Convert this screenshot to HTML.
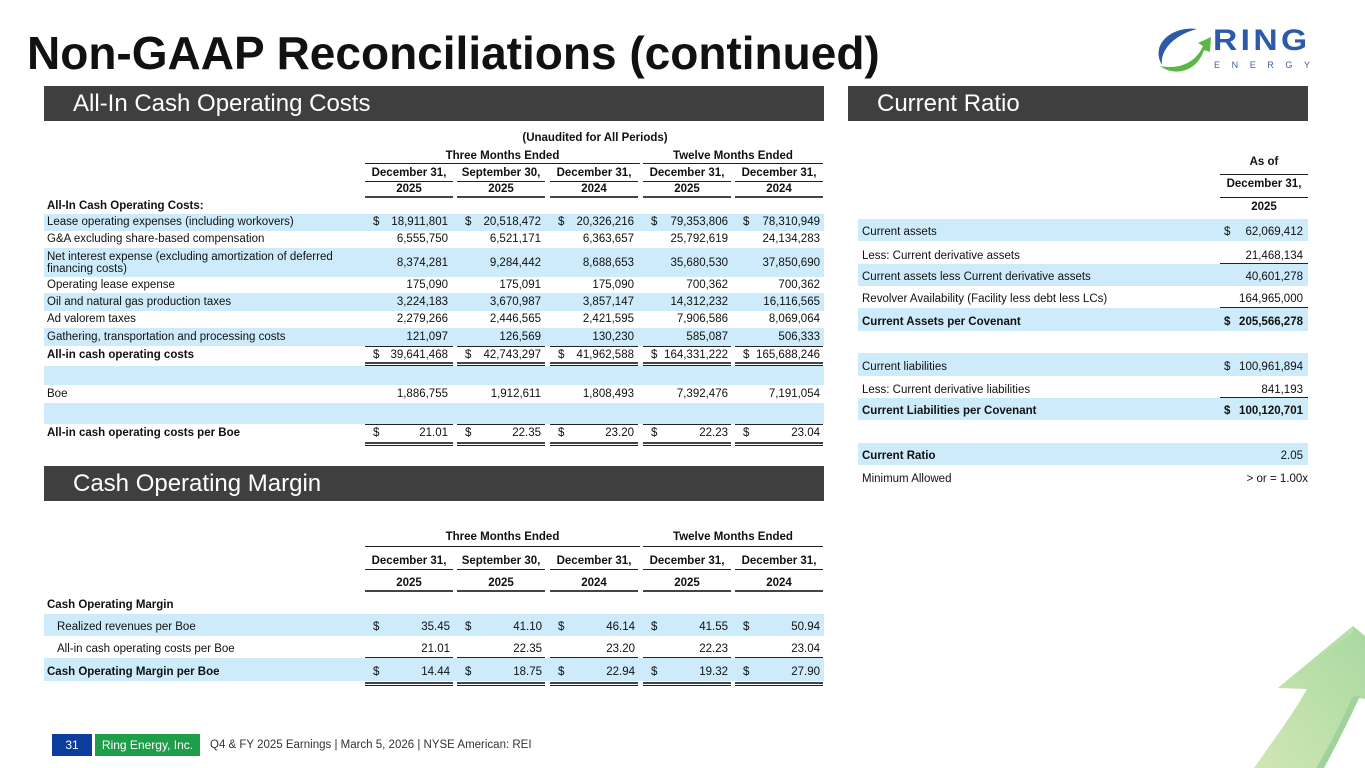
<!DOCTYPE html>
<html>
<head>
<meta charset="utf-8">
<style>
*{margin:0;padding:0;box-sizing:border-box;}
html,body{width:1365px;height:768px;overflow:hidden;background:#fff;}
body{position:relative;font-family:"Liberation Sans",Arial,sans-serif;color:#111;}
.a{position:absolute;}
.t{position:absolute;font-size:11.5px;line-height:14px;white-space:nowrap;color:#111;}
.b{font-weight:bold;}
.r{text-align:right;}
.c{text-align:center;}
.bl{position:absolute;background:#cdebfa;}
.ln{position:absolute;background:#222;height:1px;}
.tk{position:absolute;background:#444;height:2px;}
.bar{position:absolute;background:#3f3f3f;height:35px;color:#fff;font-size:24px;line-height:35px;white-space:nowrap;}
</style>
</head>
<body>

<!-- Title -->
<div class="a" style="left:27px;top:25px;font-size:46px;font-weight:bold;line-height:56px;color:#111;white-space:nowrap;">Non-GAAP Reconciliations (continued)</div>

<!-- Logo -->
<svg class="a" style="left:1150px;top:22px;" width="70" height="56" viewBox="1150 22 70 56">
  <path d="M1197 29 C1172 26,1150 44,1162 65 C1160 50,1174 35,1197 29 Z" fill="#2c5aa8"/>
  <path d="M1160 66 C1176 78,1198 70,1204 50 L1210 52 L1211 37 L1198 43 L1203 46 C1196 62,1180 70,1160 66 Z" fill="#5cb846"/>
</svg>
<div class="a" style="left:1213px;top:24px;font-size:30px;font-weight:bold;line-height:34px;letter-spacing:3px;color:#2c5aa8;white-space:nowrap;transform:scaleX(1.12);transform-origin:left top;">RING</div>
<div class="a" style="left:1214px;top:60px;font-size:9px;line-height:11px;letter-spacing:11.6px;color:#3f5f9a;white-space:nowrap;">ENERGY</div>

<!-- Section bars -->
<div class="bar" style="left:44px;top:86px;width:780px;padding-left:29px;">All-In Cash Operating Costs</div>
<div class="bar" style="left:848px;top:86px;width:460px;padding-left:29px;">Current Ratio</div>
<div class="bar" style="left:44px;top:466px;width:780px;padding-left:29px;">Cash Operating Margin</div>

<!-- ============ LEFT TOP TABLE ============ -->
<div class="bl" style="left:44px;top:214px;width:780px;height:17px;"></div>
<div class="bl" style="left:44px;top:248px;width:780px;height:29px;"></div>
<div class="bl" style="left:44px;top:293px;width:780px;height:18px;"></div>
<div class="bl" style="left:44px;top:328px;width:780px;height:18px;"></div>
<div class="bl" style="left:44px;top:366px;width:780px;height:19px;"></div>
<div class="bl" style="left:44px;top:403px;width:780px;height:21px;"></div>

<div class="t b c" style="left:500px;width:190px;top:131px;">(Unaudited for All Periods)</div>
<div class="t b c" style="left:365px;width:275px;top:149px;">Three Months Ended</div>
<div class="t b c" style="left:643px;width:180px;top:149px;">Twelve Months Ended</div>
<div class="ln" style="left:365px;top:163px;width:275px;"></div>
<div class="ln" style="left:643px;top:163px;width:180px;"></div>

<div class="t b c" style="left:365px;width:88px;top:166px;">December 31,</div>
<div class="t b c" style="left:457px;width:88px;top:166px;">September 30,</div>
<div class="t b c" style="left:550px;width:88px;top:166px;">December 31,</div>
<div class="t b c" style="left:643px;width:88px;top:166px;">December 31,</div>
<div class="t b c" style="left:735px;width:88px;top:166px;">December 31,</div>
<div class="ln" style="left:365px;top:181px;width:88px;"></div>
<div class="ln" style="left:457px;top:181px;width:88px;"></div>
<div class="ln" style="left:550px;top:181px;width:88px;"></div>
<div class="ln" style="left:643px;top:181px;width:88px;"></div>
<div class="ln" style="left:735px;top:181px;width:88px;"></div>

<div class="t b c" style="left:365px;width:88px;top:182px;">2025</div>
<div class="t b c" style="left:457px;width:88px;top:182px;">2025</div>
<div class="t b c" style="left:550px;width:88px;top:182px;">2024</div>
<div class="t b c" style="left:643px;width:88px;top:182px;">2025</div>
<div class="t b c" style="left:735px;width:88px;top:182px;">2024</div>
<div class="tk" style="left:365px;top:196px;width:88px;"></div>
<div class="tk" style="left:457px;top:196px;width:88px;"></div>
<div class="tk" style="left:550px;top:196px;width:88px;"></div>
<div class="tk" style="left:643px;top:196px;width:88px;"></div>
<div class="tk" style="left:735px;top:196px;width:88px;"></div>

<div class="t b" style="left:47px;top:199px;">All-In Cash Operating Costs:</div>

<div class="t" style="left:47px;top:215px;">Lease operating expenses (including workovers)</div>
<div class="t" style="left:373px;top:215px;">$</div><div class="t r" style="left:365px;width:83px;top:215px;">18,911,801</div>
<div class="t" style="left:465px;top:215px;">$</div><div class="t r" style="left:457px;width:84px;top:215px;">20,518,472</div>
<div class="t" style="left:558px;top:215px;">$</div><div class="t r" style="left:550px;width:84px;top:215px;">20,326,216</div>
<div class="t" style="left:651px;top:215px;">$</div><div class="t r" style="left:643px;width:85px;top:215px;">79,353,806</div>
<div class="t" style="left:743px;top:215px;">$</div><div class="t r" style="left:735px;width:85px;top:215px;">78,310,949</div>

<div class="t" style="left:47px;top:232px;">G&amp;A excluding share-based compensation</div>
<div class="t r" style="left:365px;width:83px;top:232px;">6,555,750</div>
<div class="t r" style="left:457px;width:84px;top:232px;">6,521,171</div>
<div class="t r" style="left:550px;width:84px;top:232px;">6,363,657</div>
<div class="t r" style="left:643px;width:85px;top:232px;">25,792,619</div>
<div class="t r" style="left:735px;width:85px;top:232px;">24,134,283</div>

<div class="t" style="left:47px;top:250px;">Net interest expense (excluding amortization of deferred</div>
<div class="t" style="left:47px;top:262px;">financing costs)</div>
<div class="t r" style="left:365px;width:83px;top:256px;">8,374,281</div>
<div class="t r" style="left:457px;width:84px;top:256px;">9,284,442</div>
<div class="t r" style="left:550px;width:84px;top:256px;">8,688,653</div>
<div class="t r" style="left:643px;width:85px;top:256px;">35,680,530</div>
<div class="t r" style="left:735px;width:85px;top:256px;">37,850,690</div>

<div class="t" style="left:47px;top:278px;">Operating lease expense</div>
<div class="t r" style="left:365px;width:83px;top:278px;">175,090</div>
<div class="t r" style="left:457px;width:84px;top:278px;">175,091</div>
<div class="t r" style="left:550px;width:84px;top:278px;">175,090</div>
<div class="t r" style="left:643px;width:85px;top:278px;">700,362</div>
<div class="t r" style="left:735px;width:85px;top:278px;">700,362</div>

<div class="t" style="left:47px;top:295px;">Oil and natural gas production taxes</div>
<div class="t r" style="left:365px;width:83px;top:295px;">3,224,183</div>
<div class="t r" style="left:457px;width:84px;top:295px;">3,670,987</div>
<div class="t r" style="left:550px;width:84px;top:295px;">3,857,147</div>
<div class="t r" style="left:643px;width:85px;top:295px;">14,312,232</div>
<div class="t r" style="left:735px;width:85px;top:295px;">16,116,565</div>

<div class="t" style="left:47px;top:312px;">Ad valorem taxes</div>
<div class="t r" style="left:365px;width:83px;top:312px;">2,279,266</div>
<div class="t r" style="left:457px;width:84px;top:312px;">2,446,565</div>
<div class="t r" style="left:550px;width:84px;top:312px;">2,421,595</div>
<div class="t r" style="left:643px;width:85px;top:312px;">7,906,586</div>
<div class="t r" style="left:735px;width:85px;top:312px;">8,069,064</div>

<div class="t" style="left:47px;top:330px;">Gathering, transportation and processing costs</div>
<div class="t r" style="left:365px;width:83px;top:330px;">121,097</div>
<div class="t r" style="left:457px;width:84px;top:330px;">126,569</div>
<div class="t r" style="left:550px;width:84px;top:330px;">130,230</div>
<div class="t r" style="left:643px;width:85px;top:330px;">585,087</div>
<div class="t r" style="left:735px;width:85px;top:330px;">506,333</div>
<div class="ln" style="left:365px;top:346px;width:88px;"></div>
<div class="ln" style="left:457px;top:346px;width:88px;"></div>
<div class="ln" style="left:550px;top:346px;width:88px;"></div>
<div class="ln" style="left:643px;top:346px;width:88px;"></div>
<div class="ln" style="left:735px;top:346px;width:88px;"></div>

<div class="t b" style="left:47px;top:348px;">All-in cash operating costs</div>
<div class="t" style="left:373px;top:348px;">$</div><div class="t r" style="left:365px;width:83px;top:348px;">39,641,468</div>
<div class="t" style="left:465px;top:348px;">$</div><div class="t r" style="left:457px;width:84px;top:348px;">42,743,297</div>
<div class="t" style="left:558px;top:348px;">$</div><div class="t r" style="left:550px;width:84px;top:348px;">41,962,588</div>
<div class="t" style="left:651px;top:348px;">$</div><div class="t r" style="left:643px;width:85px;top:348px;">164,331,222</div>
<div class="t" style="left:743px;top:348px;">$</div><div class="t r" style="left:735px;width:85px;top:348px;">165,688,246</div>
<div class="tk" style="left:365px;top:362px;width:88px;"></div>
<div class="tk" style="left:457px;top:362px;width:88px;"></div>
<div class="tk" style="left:550px;top:362px;width:88px;"></div>
<div class="tk" style="left:643px;top:362px;width:88px;"></div>
<div class="tk" style="left:735px;top:362px;width:88px;"></div>
<div class="ln" style="left:365px;top:365px;width:88px;"></div>
<div class="ln" style="left:457px;top:365px;width:88px;"></div>
<div class="ln" style="left:550px;top:365px;width:88px;"></div>
<div class="ln" style="left:643px;top:365px;width:88px;"></div>
<div class="ln" style="left:735px;top:365px;width:88px;"></div>

<div class="t" style="left:47px;top:387px;">Boe</div>
<div class="t r" style="left:365px;width:83px;top:387px;">1,886,755</div>
<div class="t r" style="left:457px;width:84px;top:387px;">1,912,611</div>
<div class="t r" style="left:550px;width:84px;top:387px;">1,808,493</div>
<div class="t r" style="left:643px;width:85px;top:387px;">7,392,476</div>
<div class="t r" style="left:735px;width:85px;top:387px;">7,191,054</div>

<div class="ln" style="left:365px;top:424px;width:88px;"></div>
<div class="ln" style="left:457px;top:424px;width:88px;"></div>
<div class="ln" style="left:550px;top:424px;width:88px;"></div>
<div class="ln" style="left:643px;top:424px;width:88px;"></div>
<div class="ln" style="left:735px;top:424px;width:88px;"></div>

<div class="t b" style="left:47px;top:426px;">All-in cash operating costs per Boe</div>
<div class="t" style="left:373px;top:426px;">$</div><div class="t r" style="left:365px;width:83px;top:426px;">21.01</div>
<div class="t" style="left:465px;top:426px;">$</div><div class="t r" style="left:457px;width:84px;top:426px;">22.35</div>
<div class="t" style="left:558px;top:426px;">$</div><div class="t r" style="left:550px;width:84px;top:426px;">23.20</div>
<div class="t" style="left:651px;top:426px;">$</div><div class="t r" style="left:643px;width:85px;top:426px;">22.23</div>
<div class="t" style="left:743px;top:426px;">$</div><div class="t r" style="left:735px;width:85px;top:426px;">23.04</div>
<div class="tk" style="left:365px;top:442px;width:88px;"></div>
<div class="tk" style="left:457px;top:442px;width:88px;"></div>
<div class="tk" style="left:550px;top:442px;width:88px;"></div>
<div class="tk" style="left:643px;top:442px;width:88px;"></div>
<div class="tk" style="left:735px;top:442px;width:88px;"></div>
<div class="ln" style="left:365px;top:445px;width:88px;"></div>
<div class="ln" style="left:457px;top:445px;width:88px;"></div>
<div class="ln" style="left:550px;top:445px;width:88px;"></div>
<div class="ln" style="left:643px;top:445px;width:88px;"></div>
<div class="ln" style="left:735px;top:445px;width:88px;"></div>

<!-- ============ RIGHT TABLE ============ -->
<div class="t b c" style="left:1220px;width:88px;top:155px;">As of</div>
<div class="ln" style="left:1220px;top:174px;width:88px;"></div>
<div class="t b c" style="left:1220px;width:88px;top:177px;">December 31,</div>
<div class="ln" style="left:1220px;top:197px;width:88px;"></div>
<div class="t b c" style="left:1220px;width:88px;top:200px;">2025</div>

<div class="bl" style="left:858px;top:219px;width:450px;height:22px;"></div>
<div class="t" style="left:862px;top:225px;">Current assets</div>
<div class="t" style="left:1224px;top:225px;">$</div><div class="t r" style="left:1220px;width:83px;top:225px;">62,069,412</div>

<div class="t" style="left:862px;top:249px;">Less: Current derivative assets</div>
<div class="t r" style="left:1220px;width:83px;top:249px;">21,468,134</div>
<div class="ln" style="left:1220px;top:263px;width:88px;"></div>

<div class="bl" style="left:858px;top:264px;width:450px;height:22px;"></div>
<div class="t" style="left:862px;top:270px;">Current assets less Current derivative assets</div>
<div class="t r" style="left:1220px;width:83px;top:270px;">40,601,278</div>

<div class="t" style="left:862px;top:292px;">Revolver Availability (Facility less debt less LCs)</div>
<div class="t r" style="left:1220px;width:83px;top:292px;">164,965,000</div>
<div class="ln" style="left:1220px;top:307px;width:88px;"></div>

<div class="bl" style="left:858px;top:308px;width:450px;height:23px;"></div>
<div class="t b" style="left:862px;top:315px;">Current Assets per Covenant</div>
<div class="t b" style="left:1224px;top:315px;">$</div><div class="t b r" style="left:1220px;width:83px;top:315px;">205,566,278</div>

<div class="bl" style="left:858px;top:353px;width:450px;height:23px;"></div>
<div class="t" style="left:862px;top:360px;">Current liabilities</div>
<div class="t" style="left:1224px;top:360px;">$</div><div class="t r" style="left:1220px;width:83px;top:360px;">100,961,894</div>

<div class="t" style="left:862px;top:383px;">Less: Current derivative liabilities</div>
<div class="t r" style="left:1220px;width:83px;top:383px;">841,193</div>
<div class="ln" style="left:1220px;top:397px;width:88px;"></div>

<div class="bl" style="left:858px;top:398px;width:450px;height:22px;"></div>
<div class="t b" style="left:862px;top:404px;">Current Liabilities per Covenant</div>
<div class="t b" style="left:1224px;top:404px;">$</div><div class="t b r" style="left:1220px;width:83px;top:404px;">100,120,701</div>

<div class="bl" style="left:858px;top:443px;width:450px;height:22px;"></div>
<div class="t b" style="left:862px;top:449px;">Current Ratio</div>
<div class="t r" style="left:1220px;width:83px;top:449px;">2.05</div>

<div class="t" style="left:862px;top:472px;">Minimum Allowed</div>
<div class="t r" style="left:1200px;width:108px;top:472px;">&gt; or = 1.00x</div>

<!-- ============ BOTTOM TABLE ============ -->
<div class="t b c" style="left:365px;width:275px;top:530px;">Three Months Ended</div>
<div class="t b c" style="left:643px;width:180px;top:530px;">Twelve Months Ended</div>
<div class="ln" style="left:365px;top:546px;width:275px;"></div>
<div class="ln" style="left:643px;top:546px;width:180px;"></div>

<div class="t b c" style="left:365px;width:88px;top:554px;">December 31,</div>
<div class="t b c" style="left:457px;width:88px;top:554px;">September 30,</div>
<div class="t b c" style="left:550px;width:88px;top:554px;">December 31,</div>
<div class="t b c" style="left:643px;width:88px;top:554px;">December 31,</div>
<div class="t b c" style="left:735px;width:88px;top:554px;">December 31,</div>
<div class="ln" style="left:365px;top:569px;width:88px;"></div>
<div class="ln" style="left:457px;top:569px;width:88px;"></div>
<div class="ln" style="left:550px;top:569px;width:88px;"></div>
<div class="ln" style="left:643px;top:569px;width:88px;"></div>
<div class="ln" style="left:735px;top:569px;width:88px;"></div>

<div class="t b c" style="left:365px;width:88px;top:576px;">2025</div>
<div class="t b c" style="left:457px;width:88px;top:576px;">2025</div>
<div class="t b c" style="left:550px;width:88px;top:576px;">2024</div>
<div class="t b c" style="left:643px;width:88px;top:576px;">2025</div>
<div class="t b c" style="left:735px;width:88px;top:576px;">2024</div>
<div class="tk" style="left:365px;top:590px;width:88px;"></div>
<div class="tk" style="left:457px;top:590px;width:88px;"></div>
<div class="tk" style="left:550px;top:590px;width:88px;"></div>
<div class="tk" style="left:643px;top:590px;width:88px;"></div>
<div class="tk" style="left:735px;top:590px;width:88px;"></div>

<div class="t b" style="left:47px;top:598px;">Cash Operating Margin</div>

<div class="bl" style="left:44px;top:614px;width:780px;height:22px;"></div>
<div class="t" style="left:57px;top:620px;">Realized revenues per Boe</div>
<div class="t" style="left:373px;top:620px;">$</div><div class="t r" style="left:365px;width:85px;top:620px;">35.45</div>
<div class="t" style="left:465px;top:620px;">$</div><div class="t r" style="left:457px;width:85px;top:620px;">41.10</div>
<div class="t" style="left:558px;top:620px;">$</div><div class="t r" style="left:550px;width:85px;top:620px;">46.14</div>
<div class="t" style="left:651px;top:620px;">$</div><div class="t r" style="left:643px;width:85px;top:620px;">41.55</div>
<div class="t" style="left:743px;top:620px;">$</div><div class="t r" style="left:735px;width:85px;top:620px;">50.94</div>

<div class="t" style="left:57px;top:642px;">All-in cash operating costs per Boe</div>
<div class="t r" style="left:365px;width:85px;top:642px;">21.01</div>
<div class="t r" style="left:457px;width:85px;top:642px;">22.35</div>
<div class="t r" style="left:550px;width:85px;top:642px;">23.20</div>
<div class="t r" style="left:643px;width:85px;top:642px;">22.23</div>
<div class="t r" style="left:735px;width:85px;top:642px;">23.04</div>
<div class="ln" style="left:365px;top:657px;width:88px;"></div>
<div class="ln" style="left:457px;top:657px;width:88px;"></div>
<div class="ln" style="left:550px;top:657px;width:88px;"></div>
<div class="ln" style="left:643px;top:657px;width:88px;"></div>
<div class="ln" style="left:735px;top:657px;width:88px;"></div>

<div class="bl" style="left:44px;top:658px;width:780px;height:23px;"></div>
<div class="t b" style="left:47px;top:665px;">Cash Operating Margin per Boe</div>
<div class="t" style="left:373px;top:665px;">$</div><div class="t r" style="left:365px;width:85px;top:665px;">14.44</div>
<div class="t" style="left:465px;top:665px;">$</div><div class="t r" style="left:457px;width:85px;top:665px;">18.75</div>
<div class="t" style="left:558px;top:665px;">$</div><div class="t r" style="left:550px;width:85px;top:665px;">22.94</div>
<div class="t" style="left:651px;top:665px;">$</div><div class="t r" style="left:643px;width:85px;top:665px;">19.32</div>
<div class="t" style="left:743px;top:665px;">$</div><div class="t r" style="left:735px;width:85px;top:665px;">27.90</div>
<div class="tk" style="left:365px;top:682px;width:88px;"></div>
<div class="tk" style="left:457px;top:682px;width:88px;"></div>
<div class="tk" style="left:550px;top:682px;width:88px;"></div>
<div class="tk" style="left:643px;top:682px;width:88px;"></div>
<div class="tk" style="left:735px;top:682px;width:88px;"></div>
<div class="ln" style="left:365px;top:685px;width:88px;"></div>
<div class="ln" style="left:457px;top:685px;width:88px;"></div>
<div class="ln" style="left:550px;top:685px;width:88px;"></div>
<div class="ln" style="left:643px;top:685px;width:88px;"></div>
<div class="ln" style="left:735px;top:685px;width:88px;"></div>

<!-- Big arrow -->
<svg class="a" style="left:1230px;top:600px;" width="135" height="168" viewBox="1230 600 135 168">
  <defs>
    <linearGradient id="ag" x1="0" y1="1" x2="1" y2="0">
      <stop offset="0" stop-color="#cfe7b4"/>
      <stop offset="1" stop-color="#a9d8a0"/>
    </linearGradient>
  </defs>
  <path d="M1353 626 L1370 640 L1370 700 L1352 697 C1340 725,1328 748,1316 768 L1254 768 C1272 742,1292 716,1307 689 L1278 688 Z" fill="url(#ag)"/>
  <path d="M1352 697 C1340 725,1328 748,1316 768 L1324 768 C1336 746,1348 722,1360 696 Z" fill="#9fd39a"/>
  <path d="M1353 626 L1278 688 L1284 684 L1353 632 Z" fill="#b9dfa8"/>
</svg>

<!-- Footer -->
<div class="a" style="left:52px;top:734px;width:40px;height:22px;background:#0c3d9e;color:#fff;font-size:12px;line-height:22px;text-align:center;">31</div>
<div class="a" style="left:95px;top:734px;width:105px;height:22px;background:#1f9e4a;color:#fff;font-size:12px;line-height:22px;text-align:center;white-space:nowrap;">Ring Energy, Inc.</div>
<div class="a" style="left:210px;top:734px;height:22px;color:#333;font-size:11.5px;line-height:22px;white-space:nowrap;">Q4 &amp; FY 2025 Earnings | March 5, 2026 | NYSE American: REI</div>

</body>
</html>
